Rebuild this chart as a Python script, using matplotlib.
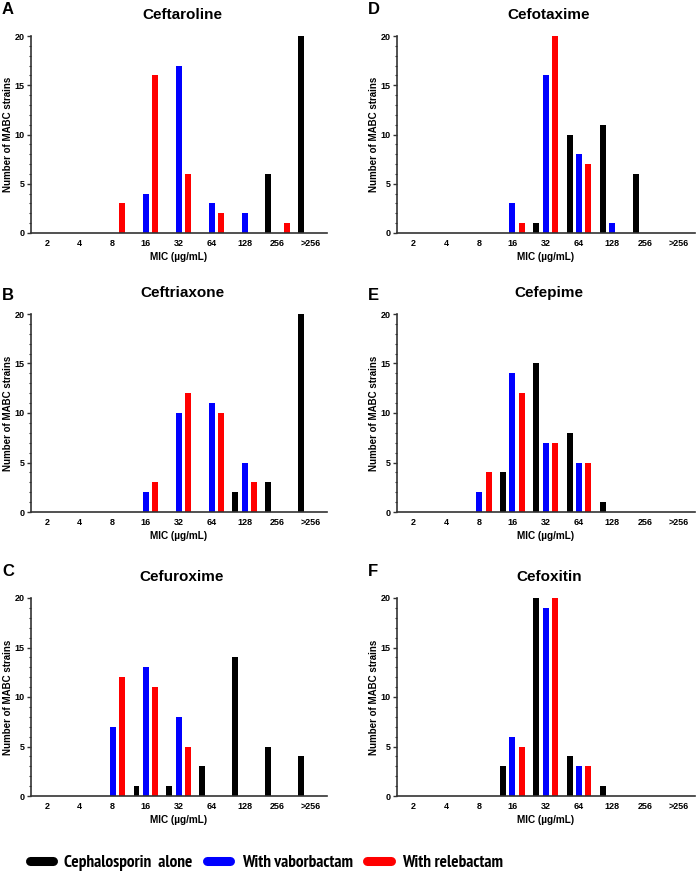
import numpy as np
import matplotlib
matplotlib.use("Agg")
import matplotlib.pyplot as plt
from matplotlib.lines import Line2D
from matplotlib.ticker import MultipleLocator
from matplotlib import font_manager

plt.rcParams["font.family"] = ["Liberation Sans", "DejaVu Sans"]
plt.rcParams["font.weight"] = "bold"

mic_labels = ["2", "4", "8", "16", "32", "64", "128", "256", ">256"]

# counts per MIC category: alone / vaborbactam / relebactam
ceftaroline_alone = [0, 0, 0, 0, 0, 0, 0, 6, 20]
ceftaroline_vabor = [0, 0, 0, 4, 17, 3, 2, 0, 0]
ceftaroline_rele = [0, 0, 3, 16, 6, 2, 0, 1, 0]

ceftriaxone_alone = [0, 0, 0, 0, 0, 0, 2, 3, 20]
ceftriaxone_vabor = [0, 0, 0, 2, 10, 11, 5, 0, 0]
ceftriaxone_rele = [0, 0, 0, 3, 12, 10, 3, 0, 0]

cefuroxime_alone = [0, 0, 0, 1, 1, 3, 14, 5, 4]
cefuroxime_vabor = [0, 0, 7, 13, 8, 0, 0, 0, 0]
cefuroxime_rele = [0, 0, 12, 11, 5, 0, 0, 0, 0]

cefotaxime_alone = [0, 0, 0, 0, 1, 10, 11, 6, 0]
cefotaxime_vabor = [0, 0, 0, 3, 16, 8, 1, 0, 0]
cefotaxime_rele = [0, 0, 0, 1, 20, 7, 0, 0, 0]

cefepime_alone = [0, 0, 0, 4, 15, 8, 1, 0, 0]
cefepime_vabor = [0, 0, 2, 14, 7, 5, 0, 0, 0]
cefepime_rele = [0, 0, 4, 12, 7, 5, 0, 0, 0]

cefoxitin_alone = [0, 0, 0, 3, 20, 4, 1, 0, 0]
cefoxitin_vabor = [0, 0, 0, 6, 19, 3, 0, 0, 0]
cefoxitin_rele = [0, 0, 0, 5, 20, 3, 0, 0, 0]

panels = [
    ("A", "Ceftaroline", ceftaroline_alone, ceftaroline_vabor, ceftaroline_rele),
    ("B", "Ceftriaxone", ceftriaxone_alone, ceftriaxone_vabor, ceftriaxone_rele),
    ("C", "Cefuroxime", cefuroxime_alone, cefuroxime_vabor, cefuroxime_rele),
    ("D", "Cefotaxime", cefotaxime_alone, cefotaxime_vabor, cefotaxime_rele),
    ("E", "Cefepime", cefepime_alone, cefepime_vabor, cefepime_rele),
    ("F", "Cefoxitin", cefoxitin_alone, cefoxitin_vabor, cefoxitin_rele),
]

colors = ["#000000", "#0000ff", "#ff0000"]
series_names = ["Cephalosporin  alone", "With vaborbactam", "With relebactam"]

W, H = 696, 875
fig = plt.figure(figsize=(W / 100, H / 100), dpi=100)

# axes boxes in pixels
col_x = [(31, 327), (397, 695)]
row_y = [(36, 233), (314, 512), (598, 796)]
letter_y = [9, 295, 572]

pitch = 0.28
width = 0.18
x = np.arange(len(mic_labels))

for i, (letter, title, alone, vabor, rele) in enumerate(panels):
    col, row = divmod(i, 3)
    x0, x1 = col_x[col]
    y0, y1 = row_y[row]
    ax = fig.add_axes([x0 / W, 1 - y1 / H, (x1 - x0) / W, (y1 - y0) / H])

    for k, vals in enumerate([alone, vabor, rele]):
        ax.bar(x + (k - 1) * pitch, vals, width=width, color=colors[k], linewidth=0)

    ax.set_xlim(-0.48, 8.5)
    ax.set_ylim(0, 20)
    ax.set_xticks(x)
    ax.set_xticklabels(mic_labels, fontsize=6.5, fontweight="bold")
    ax.yaxis.set_major_locator(MultipleLocator(5))
    ax.yaxis.set_minor_locator(MultipleLocator(1))
    ax.tick_params(axis="x", length=0, pad=4.5)
    ax.tick_params(axis="y", which="major", length=3, width=1, labelsize=6.5, pad=1.5, color="#333333")
    ax.tick_params(axis="y", which="minor", length=1.8, width=0.8, color="#333333")
    for lab in ax.get_yticklabels():
        lab.set_fontweight("bold")

    for s in ["top", "right"]:
        ax.spines[s].set_visible(False)
    for s in ["left", "bottom"]:
        ax.spines[s].set_color("#333333")
        ax.spines[s].set_linewidth(1.2)

    ax.set_ylabel("Number of MABC strains", fontsize=7, fontweight="bold", labelpad=1.5)
    ax.set_xlabel("MIC (\u00b5g/mL)", fontsize=7.2, fontweight="bold", labelpad=3)

    # title and panel letter
    cx = (x0 + x1) / 2 + 3
    fig.text(cx / W, 1 - (y0 - 21) / H, title, fontsize=11, fontweight="bold",
             ha="center", va="center")
    fig.text((x0 - 29) / W, 1 - letter_y[row] / H, letter, fontsize=12,
             fontweight="bold", ha="left", va="center")

# the reference legend uses a condensed bold face; use the file directly if there is one
narrow = [f for f in font_manager.fontManager.ttflist
          if "Narrow" in f.name and f.weight in (700, "bold") and f.style == "normal"]
if narrow:
    legend_prop = font_manager.FontProperties(fname=narrow[0].fname, size=12.4)
else:
    legend_prop = font_manager.FontProperties(family="Liberation Sans", weight="bold", size=9.2)

handles = [Line2D([0], [0], color=c, lw=6.5, solid_capstyle="round") for c in colors]
fig.legend(handles, series_names, loc="center left", bbox_to_anchor=(16 / W, 1 - 863 / H),
           ncol=3, frameon=False, handlelength=1.35, handletextpad=0.65,
           columnspacing=0.85, borderpad=0.3, prop=legend_prop)

fig.savefig("out.png", dpi=100)
